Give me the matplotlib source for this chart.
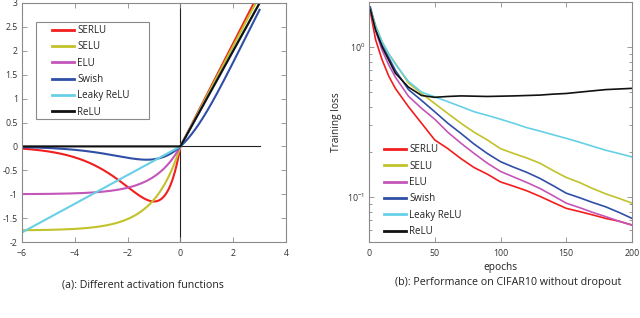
import numpy as np
import matplotlib
matplotlib.use("Agg")
import matplotlib.pyplot as plt
from matplotlib.patches import Rectangle
from matplotlib.ticker import LogLocator, NullFormatter

plt.rcParams['font.family'] = ['Open Sans', 'DejaVu Sans']
plt.rcParams['mathtext.fontset'] = 'custom'
plt.rcParams['mathtext.rm'] = 'Open Sans'

# ---------------- data: (a) activation functions ----------------
act_names = ["SERLU", "SELU", "ELU", "Swish", "Leaky ReLU", "ReLU"]
act_colors = ["#f21d1d", "#c2c22a", "#c455b9", "#2f4fa6", "#66d0e6", "#111111"]
serlu_lambda, serlu_alpha = 1.07862, 2.90427
selu_lambda, selu_alpha = 1.0507, 1.67326
elu_alpha = 1.0
leaky_slope = 0.3
x_range = (-6, 3)

# ---------------- data: (b) training loss on CIFAR10 ----------------
epochs = [1, 5, 10, 15, 20, 30, 40, 50, 60, 70, 80, 90, 100, 110, 120,
          130, 140, 150, 160, 170, 180, 190, 200]
loss_serlu = [1.72, 1.12, 0.82, 0.64, 0.53, 0.40, 0.31, 0.24, 0.21, 0.18, 0.157,
              0.142, 0.126, 0.118, 0.110, 0.101, 0.092, 0.084, 0.080, 0.076,
              0.072, 0.069, 0.065]
loss_selu = [1.80, 1.40, 1.08, 0.90, 0.78, 0.575, 0.49, 0.42, 0.36, 0.31, 0.27,
             0.24, 0.21, 0.195, 0.182, 0.168, 0.150, 0.135, 0.125, 0.114,
             0.105, 0.098, 0.091]
loss_elu = [1.78, 1.28, 0.95, 0.76, 0.63, 0.47, 0.39, 0.33, 0.27, 0.228, 0.195,
            0.168, 0.148, 0.136, 0.125, 0.114, 0.102, 0.091, 0.085, 0.079,
            0.074, 0.069, 0.065]
loss_swish = [1.85, 1.35, 1.03, 0.85, 0.70, 0.52, 0.44, 0.37, 0.31, 0.265, 0.225,
              0.195, 0.172, 0.158, 0.146, 0.133, 0.119, 0.106, 0.099, 0.092,
              0.086, 0.079, 0.072]
loss_leaky = [1.78, 1.38, 1.08, 0.90, 0.77, 0.59, 0.50, 0.465, 0.432, 0.40, 0.37,
              0.35, 0.33, 0.31, 0.29, 0.275, 0.26, 0.246, 0.232, 0.218, 0.205,
              0.195, 0.185]
loss_relu = [1.78, 1.30, 1.00, 0.82, 0.67, 0.54, 0.475, 0.462, 0.468, 0.472, 0.47,
             0.468, 0.47, 0.472, 0.475, 0.478, 0.485, 0.49, 0.50, 0.51, 0.52,
             0.525, 0.53]
losses = [loss_serlu, loss_selu, loss_elu, loss_swish, loss_leaky, loss_relu]

# ---------------- figure ----------------
W, H = 640, 318
fig = plt.figure(figsize=(W / 100, H / 100), dpi=100)

spine_c = "#8a8a8a"
tick_c = "#333333"
text_c = "#222222"

def style_axes(ax):
    for s in ax.spines.values():
        s.set_color(spine_c)
        s.set_linewidth(0.8)
    ax.tick_params(which='both', direction='in', top=True, right=True,
                   color=spine_c, labelcolor=tick_c, labelsize=6.3, width=0.6)
    ax.tick_params(which='major', length=3.5)
    ax.tick_params(axis='x', which='major', pad=5)
    ax.tick_params(axis='y', which='major', pad=3)
    ax.tick_params(which='minor', length=2)

def legend_style(leg):
    for t in leg.get_texts():
        t.set_color(text_c)
    for l in leg.get_lines():
        l.set_linewidth(2.0)

# (a)
AW1, AH1 = 264, 239
ax1 = fig.add_axes([22 / W, 1 - 242 / H, AW1 / W, AH1 / H])
style_axes(ax1)
x = np.linspace(x_range[0], x_range[1], 600)
xn = np.minimum(x, 0)
curves = [
    np.where(x >= 0, serlu_lambda * x, serlu_lambda * serlu_alpha * xn * np.exp(xn)),
    np.where(x >= 0, selu_lambda * x, selu_lambda * selu_alpha * (np.exp(xn) - 1)),
    np.where(x >= 0, x, elu_alpha * (np.exp(xn) - 1)),
    x / (1 + np.exp(-x)),
    np.where(x >= 0, x, leaky_slope * x),
    np.maximum(x, 0),
]
ax1.plot(x_range, [0, 0], color="#222222", lw=0.8, zorder=1)
ax1.axvline(0, color="#222222", lw=0.8, zorder=1)
for name, c, y in zip(act_names, act_colors, curves):
    ax1.plot(x, y, color=c, lw=1.5, label=name, zorder=2)
ax1.set_xlim(-6, 4)
ax1.set_ylim(-2, 3)
ax1.set_xticks([-6, -4, -2, 0, 2, 4])
ax1.set_yticks(np.arange(-2, 3.01, 0.5))
ax1.set_yticklabels(["-2", "-1.5", "-1", "-0.5", "0", "0.5", "1", "1.5", "2", "2.5", "3"])
# legend frame (axes coords)
ax1.add_patch(Rectangle(((36 - 22) / AW1, (242 - 119) / AH1),
                        (149 - 36) / AW1, (119 - 22) / AH1,
                        transform=ax1.transAxes, facecolor='white',
                        edgecolor="#8a8a8a", lw=0.8, zorder=3))
leg1 = ax1.legend(loc='upper left', bbox_to_anchor=((52 - 22) / AW1, (242 - 25) / AH1),
                  fontsize=7, frameon=False, handlelength=2.3,
                  handletextpad=0.3, labelspacing=0.55, borderpad=0,
                  borderaxespad=0)
leg1.set_zorder(4)
legend_style(leg1)
fig.text(143 / W, 1 - 285 / H, "(a): Different activation functions",
         ha='center', va='center', fontsize=7.7, color=text_c)

# (b)
AW2, AH2 = 263, 240
ax2 = fig.add_axes([369 / W, 1 - 242 / H, AW2 / W, AH2 / H])
style_axes(ax2)
for name, c, y in zip(act_names, act_colors, losses):
    ax2.plot(epochs, y, color=c, lw=1.2, label=name)
ax2.set_yscale('log')
ax2.set_xlim(0, 200)
ax2.set_ylim(10 ** -1.3, 10 ** 0.3)
ax2.set_xticks([0, 50, 100, 150, 200])
ax2.yaxis.set_major_locator(LogLocator(base=10, numticks=5))
ax2.yaxis.set_minor_locator(LogLocator(base=10, subs=np.arange(2, 10), numticks=10))
ax2.yaxis.set_minor_formatter(NullFormatter())
ax2.set_xlabel("epochs", fontsize=7.3, color=text_c, labelpad=3)
ax2.set_ylabel("Training loss", fontsize=7.3, color=text_c, labelpad=4)
leg2 = ax2.legend(loc='lower left', bbox_to_anchor=((384 - 369) / AW2, 5 / AH2),
                  fontsize=7, frameon=False, handlelength=2.3,
                  handletextpad=0.3, labelspacing=0.55, borderpad=0,
                  borderaxespad=0)
legend_style(leg2)
fig.text(508 / W, 1 - 283 / H, "(b): Performance on CIFAR10 without dropout",
         ha='center', va='center', fontsize=7.7, color=text_c)

fig.savefig("out.png", dpi=100)
